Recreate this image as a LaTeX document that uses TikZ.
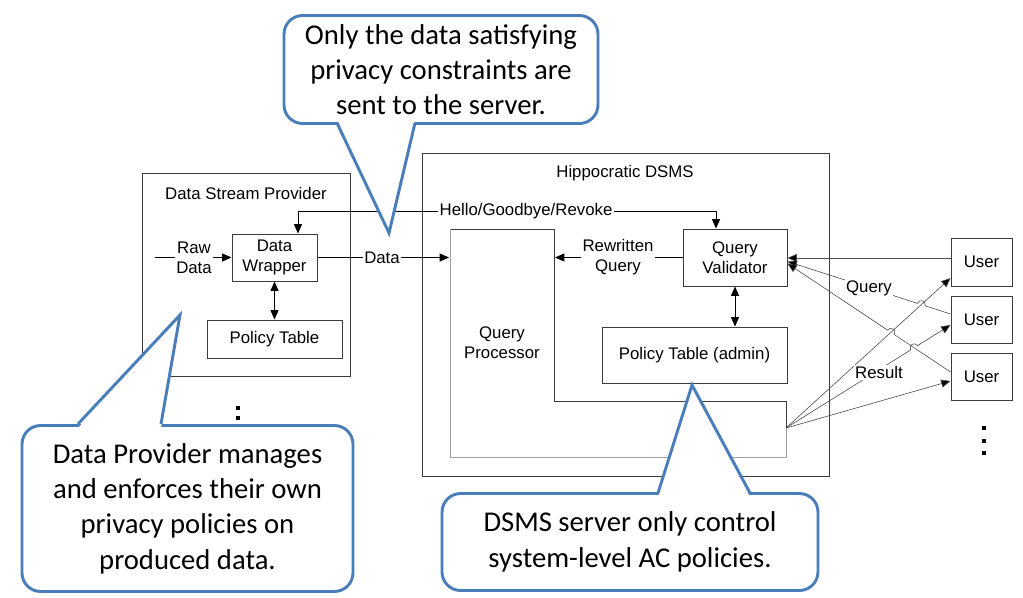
\documentclass[tikz,border=0pt]{standalone}
\usepackage{fontspec}
\setmainfont{Liberation Sans}
\newfontfamily\callfont{Carlito}
\usetikzlibrary{arrows.meta,calc}
\definecolor{callblue}{HTML}{4A7EBB}
\definecolor{boxgray}{HTML}{3C3C3C}
\definecolor{lightgray2}{HTML}{A0A0A0}
\begin{document}
\begin{tikzpicture}[x=0.75pt,y=-0.75pt,
  box/.style={draw=boxgray,line width=0.75pt,fill=white,inner sep=0pt,align=center,font=\fontsize{12.6}{15}\selectfont},
  lbl/.style={font=\fontsize{12.6}{15}\selectfont,align=center,inner sep=1pt},
  wlbl/.style={lbl,fill=white},
  arr/.style={line width=0.6pt,-{Triangle[length=7pt,width=6pt]}},
  darr/.style={line width=0.6pt,{Triangle[length=7pt,width=6pt]}-{Triangle[length=7pt,width=6pt]}},
  qline/.style={line width=0.45pt,draw=black!70,-{Triangle[length=7pt,width=6pt,fill=black]}},
  call/.style={draw=callblue,line width=2.2pt,fill=white,rounded corners=14pt,align=center,
     font=\callfont\fontsize{21.5}{26.5}\selectfont},
  callside/.style={draw=callblue,line width=2.2pt},
  dot/.style={fill=black,minimum size=2.4pt,inner sep=0pt}
]
\useasboundingbox (0,0) rectangle (1023,597);

% ---------- Data Stream Provider ----------
\node[box,minimum width=156pt,minimum height=152.25pt] (dsp) at (246,274.5) {};
\node[lbl] (dsptitle) at (246,193) {Data Stream Provider};
\node[box,minimum width=63.75pt,minimum height=35.25pt] (dw) at (274.5,257.5) {Data\\Wrapper};
\node[box,minimum width=101.25pt,minimum height=28.5pt] (pt) at (274.5,339) {Policy Table};
\node[dot] (ld1) at (238,408) {};
\node[dot] (ld2) at (238,418) {};

% ---------- Hippocratic DSMS ----------
\node[box,minimum width=305.25pt,minimum height=242.25pt] (dsms) at (625.5,314.5) {};
\node[lbl] (dsmstitle) at (625,173) {Hippocratic DSMS};
\draw[boxgray,line width=0.75pt] (450,229) -- (554,229) -- (554,401) -- (786,401) -- (786,428);
\draw[lightgray2,line width=0.75pt] (786,428) -- (786,457) -- (450,457) -- (450,229);
\node[lbl] (qp) at (502,343) {Query\\Processor};
\coordinate (qpin) at (449,257.5);
\coordinate (qprw) at (555,257.5);
\coordinate (res) at (786,428);
\node[box,minimum width=78pt,minimum height=42.75pt] (qv) at (735,257.5) {Query\\Validator};
\node[box,minimum width=138.75pt,minimum height=42pt] (pta) at (694.5,355) {Policy Table (admin)};

% ---------- Users ----------
\node[box,minimum width=45.75pt,minimum height=36pt] (u1) at (981.5,262) {User};
\node[box,minimum width=45.75pt,minimum height=35.25pt] (u2) at (981.5,319.5) {User};
\node[box,minimum width=45.75pt,minimum height=35.25pt] (u3) at (981.5,376.5) {User};
\node[dot] (rd1) at (984,428) {};
\node[dot] (rd2) at (984,441) {};
\node[dot] (rd3) at (984,453) {};

% ---------- arrows ----------
\coordinate (rawin) at (155,257.5);
\draw[arr] (rawin) -- (dw.west);
\node[wlbl] (rawlbl) at (194,257.5) {Raw\\Data};

\coordinate (hw) at (298,211);
\coordinate (hq) at (716,211);
\draw[darr] (dw.north -| hw) -- (hw) -- (hq) -- (qv.north -| hq);
\node[wlbl] (hellolbl) at (526,211) {Hello/Goodbye/Revoke};

\draw[arr] (dw.east) -- (qpin);
\node[wlbl] (datalbl) at (382,257.5) {Data};

\draw[arr] (qv.west) -- (qprw);
\node[wlbl] (rwlbl) at (618,257.5) {Rewritten\\Query};

\draw[darr] (qv.south) -- (qv.south |- pta.north);
\draw[darr] (dw.south) -- (pt.north);

% query / result lines
\coordinate (q1s) at ($(u1.west)+(0,-4)$);
\coordinate (q2s) at ($(u2.west)+(0,-5.5)$);
\coordinate (q3s) at ($(u3.west)+(0,-4.5)$);
\coordinate (q1e) at ($(qv.east)+(0,0.5)$);
\coordinate (q2e) at ($(qv.east)+(0,4)$);
\coordinate (q3e) at ($(qv.east)+(0,6)$);
\coordinate (r1e) at ($(u1.west)+(0,16)$);
\coordinate (r2e) at ($(u2.west)+(0,5.5)$);
\coordinate (r3e) at ($(u3.west)+(0,4.5)$);

\draw[qline] (q1s) -- (q1e);
\draw[qline] (res) -- (r1e);
\draw[qline] (res) -- (r3e);

% hop 1: query 2 over result 1
\coordinate (h1) at (intersection of q2s--q2e and res--r1e);
\coordinate (h1a) at ($(h1)!3pt!(q2s)$);
\coordinate (h1b) at ($(h1)!3pt!(q2e)$);
\coordinate (h1c) at ($(h1a)!4pt!-90:(h1)$);
\coordinate (h1d) at ($(h1b)!4pt!90:(h1)$);
\draw[qline] (q2s) -- (h1a) .. controls (h1c) and (h1d) .. (h1b) -- (q2e);

% hop 2: query 3 over result 1
\coordinate (h2) at (intersection of q3s--q3e and res--r1e);
\coordinate (h2a) at ($(h2)!3pt!(q3s)$);
\coordinate (h2b) at ($(h2)!3pt!(q3e)$);
\coordinate (h2c) at ($(h2a)!4pt!-90:(h2)$);
\coordinate (h2d) at ($(h2b)!4pt!90:(h2)$);
\draw[qline] (q3s) -- (h2a) .. controls (h2c) and (h2d) .. (h2b) -- (q3e);

% hop 3: result 2 over query 3
\coordinate (h3) at (intersection of res--r2e and q3s--q3e);
\coordinate (h3a) at ($(h3)!3pt!(res)$);
\coordinate (h3b) at ($(h3)!3pt!(r2e)$);
\coordinate (h3c) at ($(h3a)!4pt!90:(h3)$);
\coordinate (h3d) at ($(h3b)!4pt!-90:(h3)$);
\draw[qline] (res) -- (h3a) .. controls (h3c) and (h3d) .. (h3b) -- (r2e);

\node[wlbl] (querylbl) at (869,288) {Query};
\node[wlbl] (resultlbl) at (879,372) {Result};

% ---------- callouts ----------
\node[call,minimum width=235.5pt,minimum height=81pt] (c1) at (441,69.5)
  {Only the data satisfying\\privacy constraints are\\sent to the server.};
\fill[white] (337,119) -- (389,233) -- (415,119) -- cycle;
\draw[callside] (337,123) -- (389,233) -- (415,123);

\node[call,minimum width=248.25pt,minimum height=124.5pt] (c2) at (187.5,508.5)
  {Data Provider manages\\and enforces their own\\privacy policies on\\produced data.};
\fill[white] (78,428) -- (180,315) -- (161,428) -- cycle;
\draw[callside] (78,424) -- (180,315) -- (161,424);

\node[call,minimum width=282pt,minimum height=72.75pt] (c3) at (630,542)
  {DSMS server only control\\system-level AC policies.};
\fill[white] (658,497) -- (692,385) -- (750,497) -- cycle;
\draw[callside] (658,493) -- (692,385) -- (750,493);
\end{tikzpicture}
\end{document}
